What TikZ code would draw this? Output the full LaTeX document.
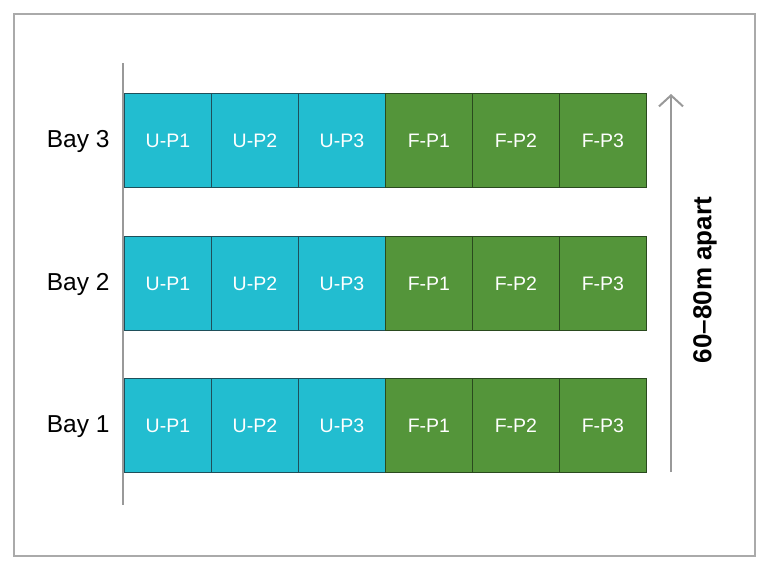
\documentclass[tikz,border=0pt]{standalone}
\usepackage{fontspec}
\setmainfont{Liberation Sans}
\usetikzlibrary{arrows.meta}
\definecolor{ucol}{HTML}{22BDD0}
\definecolor{fcol}{HTML}{54953A}
\definecolor{uedge}{HTML}{1F4F5A}
\definecolor{fedge}{HTML}{2A4A1E}
\definecolor{axis}{HTML}{999999}
\definecolor{frame}{HTML}{AAAAAA}
\tikzset{
  ucell/.style={draw=uedge, fill=ucol, line width=0.9pt, minimum width=87pt, minimum height=94pt, inner sep=0pt, text=white, font=\fontsize{19.5}{21}\selectfont, anchor=north west},
  fcell/.style={draw=fedge, fill=fcol, line width=0.9pt, minimum width=87pt, minimum height=94pt, inner sep=0pt, text=white, font=\fontsize{19.5}{21}\selectfont, anchor=north west},
  baylabel/.style={font=\fontsize{24.5}{26}\selectfont, text=black, anchor=east},
}
\begin{document}
\begin{tikzpicture}[x=1pt,y=-1pt]
\useasboundingbox (0,0) rectangle (768,565);
\fill[white] (0,0) rectangle (768,565);
\draw[frame, line width=1.2pt] (14,14) rectangle (755,556);
% rows
\foreach \r/\y in {3/93, 2/236, 1/378} {
  \node[ucell] (u1r\r) at (124,\y) {U-P1};
  \node[ucell] (u2r\r) at (211,\y) {U-P2};
  \node[ucell] (u3r\r) at (298,\y) {U-P3};
  \node[fcell] (f1r\r) at (385,\y) {F-P1};
  \node[fcell] (f2r\r) at (472,\y) {F-P2};
  \node[fcell] (f3r\r) at (559,\y) {F-P3};
  \node[baylabel] (bay\r) at (113,\y+48.5) {Bay \r};
}
% axis line
\coordinate (axtop) at (123,63);
\coordinate (axbot) at (123,505);
\draw[axis, line width=2pt] (axtop) -- (axbot);
% arrow
\coordinate (arbot) at (671,472);
\coordinate (artop) at (671,94);
\draw[axis, line width=2pt, -{Straight Barb[length=11pt,width=24pt,line width=2pt]}] (arbot) -- (artop);
\node[rotate=90, font=\bfseries\fontsize{26}{28}\selectfont] (lbl) at (705,280) {60–80m apart};
\end{tikzpicture}
\end{document}
